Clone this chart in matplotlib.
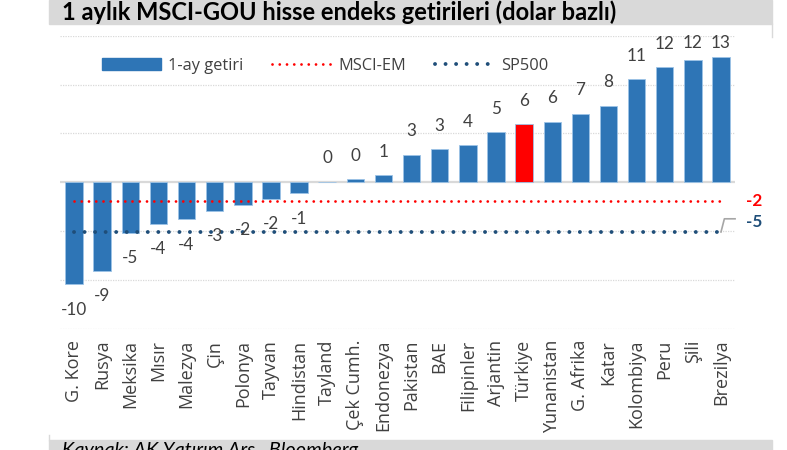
import matplotlib.pyplot as plt
import matplotlib.patches as mpatches
from matplotlib.lines import Line2D
import numpy as np

plt.rcParams['font.family'] = ['Open Sans', 'DejaVu Sans']

countries = ['G. Kore', 'Rusya', 'Meksika', 'Mısır', 'Malezya', 'Çin', 'Polonya',
             'Tayvan', 'Hindistan', 'Tayland', 'Çek Cumh.', 'Endonezya', 'Pakistan',
             'BAE', 'Filipinler', 'Arjantin', 'Türkiye', 'Yunanistan', 'G. Afrika',
             'Katar', 'Kolombiya', 'Peru', 'Şili', 'Brezilya']
returns = [-10.45, -9.1, -5.2, -4.27, -3.8, -2.96, -2.3, -1.7, -1.13, 0.05, 0.3, 0.72,
           2.79, 3.38, 3.8, 5.14, 5.96, 6.17, 7.03, 7.83, 10.52, 11.76, 12.48, 12.86]
msci_em = -1.93
sp500 = -5.1
highlight = 'Türkiye'

blue = '#2E75B6'
navy = '#1F4E79'
txt = '#404040'

fig = plt.figure(figsize=(7.87, 4.5), dpi=100)
ax = fig.add_axes([0.0762, 0.2696, 0.934 - 0.0762, 0.9207 - 0.2696])

x = np.arange(len(countries))
colors = ['#FF0000' if c == highlight else blue for c in countries]
ax.bar(x, returns, 0.62, color=colors, edgecolor='#9DC3E6', linewidth=0.6, zorder=3)

# reference lines across all categories
ax.plot(x, [msci_em] * len(x), color='#FF0000', lw=2.0, ls=(0, (0.01, 2.6)),
        dash_capstyle='round', zorder=4)
ax.plot(x, [sp500] * len(x), color=navy, lw=2.8, ls=(0, (0.01, 2.7)),
        dash_capstyle='round', zorder=4)

ax.set_xlim(-0.5, len(x) - 0.5)
ax.set_ylim(-15, 15)
for yv in [-15, -10, -5, 5, 10, 15]:
    ax.axhline(yv, color='#D9D9D9', lw=0.9, ls=(0, (1, 1)), zorder=1)
ax.axhline(0, color='#D9D9D9', lw=1.6, zorder=2)

for s in ax.spines.values():
    s.set_visible(False)
ax.set_yticks([])
ax.set_xticks(x)
ax.set_xticklabels(countries, rotation=90, fontsize=13, color=txt)
ax.tick_params(axis='x', length=0, pad=8)

# data labels
for xi, v in zip(x, returns):
    if v >= 0:
        yl = min(v + 2.4, 14.3)
    else:
        yl = v - 2.6
    ax.text(xi, yl, f'{v:.0f}', ha='center', va='center', fontsize=12.3,
            family=['Lato', 'DejaVu Sans'], color=txt, zorder=5)

# right-side labels for the reference lines
ax.text(23.9, msci_em, f'{msci_em:.0f}', color='#FF0000', fontsize=12.3, fontweight='bold',
        ha='left', va='center', family=['Lato', 'DejaVu Sans'], clip_on=False)
ax.text(23.9, sp500 + 1.0, f'{sp500:.0f}', color=navy, fontsize=12.3, fontweight='bold',
        ha='left', va='center', family=['Lato', 'DejaVu Sans'], clip_on=False)
ax.plot([23.0, 23.12, 23.5], [sp500, sp500 + 1.35, sp500 + 1.35], color='#A6A6A6',
        lw=1.2, clip_on=False, zorder=5)

# legend
handles = [mpatches.Patch(color=blue),
           Line2D([0], [0], color='#FF0000', lw=2.0, ls=(0, (0.01, 2.6)), dash_capstyle='round'),
           Line2D([0], [0], color=navy, lw=2.8, ls=(0, (0.01, 2.7)), dash_capstyle='round')]
leg = ax.legend(handles, ['1-ay getiri', 'MSCI-EM', 'SP500'], loc='upper left',
                bbox_to_anchor=(0.04, 0.975), ncol=3, frameon=False, fontsize=11.8,
                handlelength=3.6, handleheight=0.8, columnspacing=1.75, handletextpad=0.45)
for t in leg.get_texts():
    t.set_color(txt)

# title band and source band
fig.patches.append(mpatches.Rectangle((49 / 787, 1 - 23.5 / 450), (772 - 49) / 787, 23.5 / 450,
                                      transform=fig.transFigure, color='#D9D9D9', zorder=0))
fig.text(62 / 787, 1 - 19.5 / 450, '1 aylık MSCI-GOU hisse endeks getirileri (dolar bazlı)',
         fontsize=17, fontweight='bold', family=['Lato', 'DejaVu Sans'], color='black',
         ha='left', va='baseline')
fig.patches.append(mpatches.Rectangle((49 / 787, 0), (772 - 49) / 787, 10 / 450,
                                      transform=fig.transFigure, color='#D9D9D9', zorder=0))
fig.text(62 / 787, -6 / 450, 'Kaynak: AK Yatırım Arş., Bloomberg', fontsize=14.3,
         style='italic', family=['Lato', 'DejaVu Sans'], color='black', ha='left', va='baseline')
fig.add_artist(Line2D([49 / 787, 49 / 787], [10 / 450, 15 / 450], color='#D9D9D9', lw=1,
                      transform=fig.transFigure))
fig.add_artist(Line2D([772 / 787, 772 / 787], [1 - 23.5 / 450, 1 - 37 / 450], color='#D9D9D9',
                      lw=1, transform=fig.transFigure))

fig.savefig('out.png', dpi=100)
